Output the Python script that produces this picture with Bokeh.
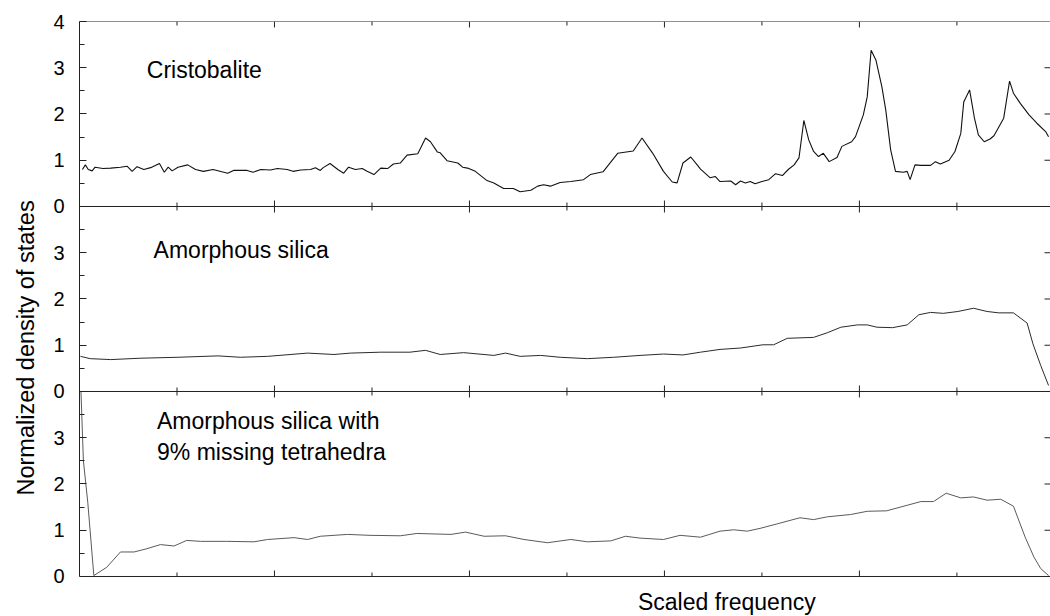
import math
from bokeh.plotting import figure
from bokeh.models import Range1d, LinearAxis, FixedTicker, Span, Label, Title, ColumnDataSource
from bokeh.embed import file_html
from bokeh.resources import INLINE

# ---------------- data ----------------
freq_cristobalite = [0.3, 0.6, 0.9, 1.3, 1.6, 2.4, 3.2, 4.2, 4.9, 5.4, 5.9, 6.6, 7.3, 8.2, 8.7, 9.1, 9.5,
                     10.1, 11.1, 11.9, 12.7, 13.7, 15.2, 15.8, 17.2, 17.8, 18.6, 19.6, 20.3, 21.3, 21.9,
                     22.7, 23.7, 24.2, 24.7, 25.0, 25.7, 26.5, 27.1, 27.6,
                     28.3, 29.0, 29.5, 30.2, 30.9, 31.6, 32.2, 32.9, 33.6, 34.7, 35.5, 36.0, 36.7, 37.0,
                     37.7, 38.8, 39.3, 39.8, 40.6, 41.8, 42.5, 43.5, 44.5, 45.2, 46.3, 47.0, 47.6, 48.3,
                     49.3, 50.4, 51.7, 52.4, 53.7, 55.2, 56.8, 57.7, 58.8, 59.9, 60.8, 61.3, 61.9, 62.7,
                     63.4, 63.7, 64.7, 65.2, 65.7, 66.8, 67.3, 67.8, 68.3, 68.8, 69.3, 70.0, 70.7, 71.4,
                     72.1, 72.7, 73.3, 73.8, 74.3, 74.8, 75.3, 75.8, 76.3, 76.9, 77.7, 78.2, 79.2, 79.6,
                     80.4, 80.8, 81.2, 81.7, 82.3, 82.7, 83.2, 83.7, 84.5, 84.9, 85.2, 85.7, 86.3, 87.3,
                     87.8, 88.3, 89.2, 89.8, 90.4, 90.7, 91.3, 91.8, 92.2, 92.8, 93.4, 93.8, 94.3, 94.8,
                     95.4, 95.8, 96.5, 97.4, 98.2, 99.1, 99.4]
dos_cristobalite = [0.80, 0.90, 0.80, 0.77, 0.85, 0.82, 0.83, 0.85, 0.87, 0.76, 0.86, 0.80, 0.84, 0.93, 0.74,
                    0.85, 0.77, 0.85, 0.90, 0.80, 0.76, 0.80, 0.72, 0.78, 0.78, 0.74, 0.80, 0.79, 0.82, 0.80,
                    0.76, 0.79, 0.80, 0.84, 0.78, 0.84, 0.93, 0.80, 0.72, 0.85,
                    0.80, 0.82, 0.76, 0.69, 0.83, 0.82, 0.92, 0.94, 1.11, 1.14, 1.48, 1.40, 1.18, 1.16,
                    0.99, 0.94, 0.85, 0.83, 0.76, 0.56, 0.51, 0.39, 0.39, 0.32, 0.35, 0.44, 0.47, 0.44,
                    0.52, 0.54, 0.58, 0.69, 0.75, 1.15, 1.20, 1.48, 1.15, 0.76, 0.53, 0.51, 0.94, 1.07,
                    0.89, 0.81, 0.62, 0.65, 0.54, 0.55, 0.47, 0.55, 0.51, 0.54, 0.49, 0.54, 0.58, 0.71,
                    0.67, 0.80, 0.90, 1.05, 1.86, 1.44, 1.19, 1.08, 1.15, 0.97, 1.06, 1.30, 1.40, 1.51,
                    1.98, 2.37, 3.38, 3.16, 2.59, 2.09, 1.23, 0.76, 0.74, 0.76, 0.58, 0.90, 0.89, 0.89,
                    0.97, 0.92, 1.00, 1.19, 1.58, 2.26, 2.52, 1.91, 1.55, 1.40, 1.46, 1.53, 1.72, 1.91,
                    2.71, 2.45, 2.23, 1.98, 1.80, 1.62, 1.51]

freq_amorphous = [0.1, 1.1, 3.2, 6.3, 10.1, 14.2, 16.5, 19.3, 23.4, 26.1, 27.8, 30.9, 33.9, 35.5, 37.0,
                  39.4, 42.5, 43.7, 45.2, 47.3, 49.3, 52.1, 54.8, 57.5, 59.9, 61.9, 63.7, 65.7, 67.8,
                  70.1, 71.2, 72.6, 75.3, 76.7, 78.1, 79.8, 80.8, 81.8, 83.4, 84.9, 86.1, 87.3, 88.6,
                  90.1, 91.7, 93.1, 94.3, 95.8, 97.2, 97.8, 98.6, 99.4]
dos_amorphous = [0.76, 0.71, 0.69, 0.72, 0.74, 0.77, 0.74, 0.76, 0.83, 0.80, 0.83, 0.85, 0.85, 0.89, 0.80,
                 0.84, 0.78, 0.83, 0.76, 0.78, 0.74, 0.71, 0.74, 0.78, 0.81, 0.79, 0.85, 0.91, 0.94,
                 1.01, 1.01, 1.15, 1.17, 1.27, 1.39, 1.44, 1.44, 1.39, 1.38, 1.44, 1.66, 1.71, 1.69,
                 1.73, 1.80, 1.73, 1.70, 1.70, 1.48, 1.03, 0.56, 0.13]

freq_missing = [0.15, 0.4, 0.85, 1.47, 2.8, 4.2, 5.6, 6.9, 8.3, 9.7, 11.0, 12.4, 15.1, 17.9, 19.3, 22.0,
                23.4, 24.7, 27.5, 29.8, 32.9, 34.6, 38.1, 39.6, 41.5, 43.7, 45.6, 48.0, 50.4, 52.1,
                54.5, 56.0, 57.5, 59.9, 61.6, 63.7, 65.7, 67.1, 68.5, 69.8, 71.6, 73.9, 75.3, 76.7,
                79.1, 80.8, 82.8, 84.9, 86.3, 87.6, 88.9, 90.4, 91.7, 93.1, 94.5, 95.8, 97.0, 97.9,
                98.6, 99.4]
dos_missing = [4.00, 2.50, 1.60, 0.02, 0.20, 0.53, 0.53, 0.60, 0.69, 0.66, 0.78, 0.76, 0.76, 0.75, 0.80,
               0.84, 0.80, 0.87, 0.91, 0.89, 0.88, 0.93, 0.91, 0.96, 0.87, 0.88, 0.80, 0.73, 0.80, 0.75,
               0.77, 0.87, 0.83, 0.80, 0.89, 0.85, 0.98, 1.01, 0.98, 1.04, 1.14, 1.27, 1.23, 1.29,
               1.34, 1.41, 1.42, 1.54, 1.62, 1.62, 1.80, 1.70, 1.72, 1.65, 1.67, 1.52, 0.85, 0.42,
               0.17, 0.02]

panel_titles = ["Cristobalite", "Amorphous silica", "Amorphous silica with", "9% missing tetrahedra"]
x_label = "Scaled frequency"
y_label = "Normalized density of states"
y_tick_labels = ["0", "1", "2", "3", "0", "1", "2", "3", "0", "1", "2", "3", "4"]
x_major_ticks = [20, 40, 60, 80]
x_minor_ticks = [10, 30, 50, 70, 90]
panel_edges = [0, 4, 8, 12]          # bottom/top of the three stacked 0..4 panels
right_ticks = [1, 2, 3, 5, 6, 7, 9, 10, 11]

# ---------------- figure ----------------
FONT = "Liberation Sans"
AX = "#222222"
X_END = 99.6
PAD = 0.865          # room below the lowest panel (for the x-axis title), in panel units

p = figure(width=1050, height=616, output_backend="svg", toolbar_location=None,
           x_range=Range1d(0, X_END), y_range=Range1d(-PAD, 12),
           min_border_left=79, min_border_right=0, min_border_top=21, min_border_bottom=0,
           x_axis_location=None, y_axis_location=None)
p.outline_line_color = None
p.xgrid.grid_line_color = None
p.ygrid.grid_line_color = None
p.background_fill_color = "white"
p.border_fill_color = "white"

# each panel spans 4 units of the shared frame
p.extra_y_ranges = {"cristobalite": Range1d(-8 - PAD, 4),
                    "amorphous": Range1d(-4 - PAD, 8),
                    "missing": Range1d(-PAD, 12)}

left = LinearAxis(ticker=FixedTicker(ticks=list(range(13)), minor_ticks=[i + 0.5 for i in range(12)]),
                  bounds=(0, 12),
                  major_label_overrides={i: lab for i, lab in enumerate(y_tick_labels)},
                  major_tick_in=7, major_tick_out=0, minor_tick_in=5, minor_tick_out=0,
                  major_label_standoff=15, major_label_text_font=FONT,
                  major_label_text_font_size="20px", major_label_text_color="black",
                  axis_line_color=AX, major_tick_line_color=AX, minor_tick_line_color=AX)
p.add_layout(left, "left")

# horizontal panel borders
for b in panel_edges:
    p.add_layout(Span(location=b, dimension="width", line_color=AX, line_width=1))

# x ticks on the panel borders, pointing into the neighbouring panels
def tick_rays(ticks, edges, angle, length):
    src = ColumnDataSource(dict(x=[t for _ in edges for t in ticks],
                                y=[e for e in edges for _ in ticks]))
    p.ray("x", "y", source=src, length=length, length_units="screen", angle=angle,
          line_color=AX, line_width=1)

tick_rays(x_major_ticks, panel_edges[:-1], math.pi / 2, 6)     # upward
tick_rays(x_major_ticks, panel_edges[1:], -math.pi / 2, 6)     # downward
tick_rays(x_minor_ticks, panel_edges[:-1], math.pi / 2, 4)
tick_rays(x_minor_ticks, panel_edges[1:], -math.pi / 2, 4)

# right-hand inward ticks
r_src = ColumnDataSource(dict(x=[X_END] * len(right_ticks), y=right_ticks))
p.ray("x", "y", source=r_src, length=6, length_units="screen", angle=math.pi, line_color=AX, line_width=1)

# curves
p.line(freq_cristobalite, dos_cristobalite, y_range_name="cristobalite", line_color="#111111", line_width=1.1)
p.line(freq_amorphous, dos_amorphous, y_range_name="amorphous", line_color="#2a2a2a", line_width=1)
p.line(freq_missing, dos_missing, y_range_name="missing", line_color="#5a5a5a", line_width=1)

# panel captions (vertically centred on the capitals)
cap = dict(text_font=FONT, text_font_size="23px", text_baseline="middle", text_color="black")
p.add_layout(Label(x=6.9, y=2.96, y_range_name="cristobalite", text=panel_titles[0], **cap))
p.add_layout(Label(x=7.6, y=3.05, y_range_name="amorphous", text=panel_titles[1], **cap))
p.add_layout(Label(x=7.95, y=3.36, y_range_name="missing", text=panel_titles[2], **cap))
p.add_layout(Label(x=7.95, y=2.70, y_range_name="missing", text=panel_titles[3], **cap))

# x-axis title (inside the frame, below the lowest panel)
p.add_layout(Label(x=66.4, y=-0.56, text=x_label, text_align="center", **cap))

# y-axis title in the left side panel
p.add_layout(Title(text=y_label, align="left", offset=121, vertical_align="top", text_font=FONT,
                   text_font_size="23.5px", text_font_style="normal", text_color="black",
                   standoff=20), "left")

open("out.html", "w").write(file_html(p, INLINE))
